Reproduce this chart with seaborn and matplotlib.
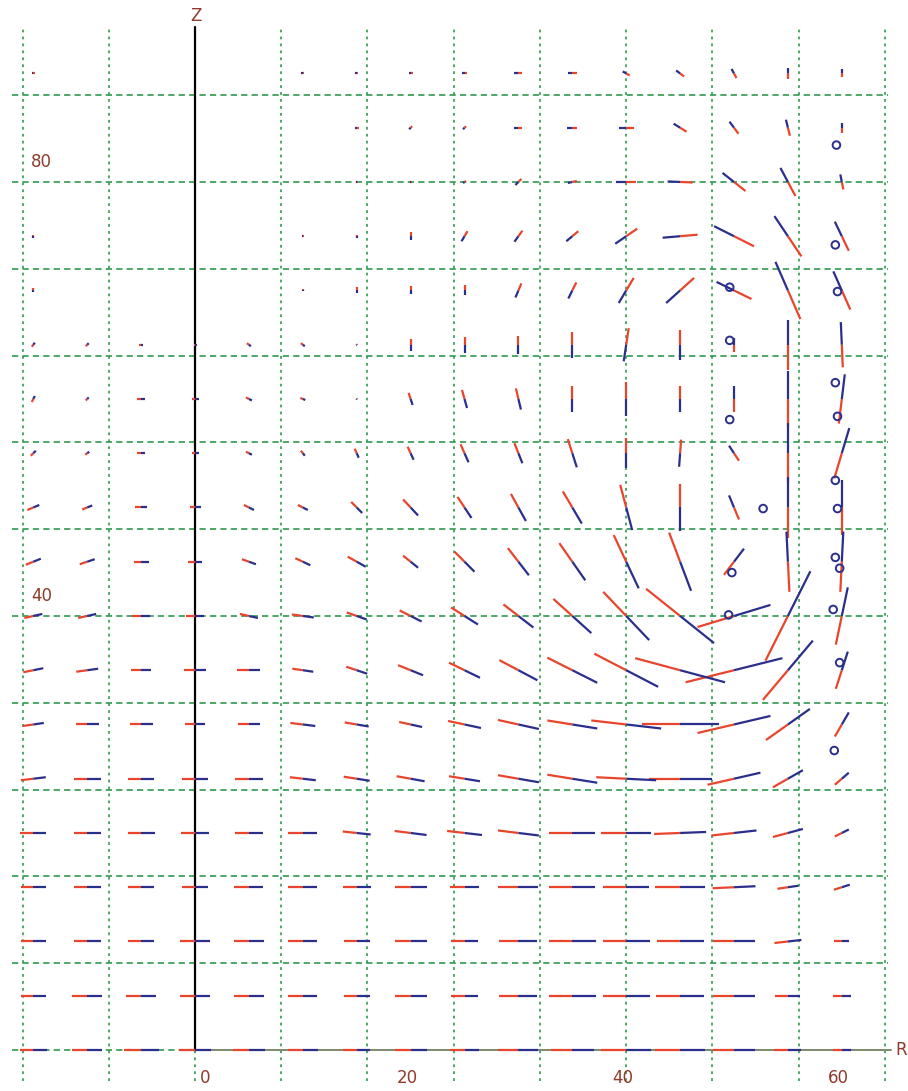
import numpy as np
import pandas as pd
import matplotlib
matplotlib.use("Agg")
import matplotlib.pyplot as plt
from matplotlib.collections import LineCollection
import seaborn as sns

# CONFIG
OUT_FILE = "out.png"
PX_PER_UNIT = 10.8          # drawn length of one data unit, used to turn vector components into R/Z units

# grid of vector origins
R_COLS = [-15, -10, -5, 0, 5, 10, 15, 20, 25, 30, 35, 40, 45, 50, 55, 60]
Z_ROWS = [90, 85, 80, 75, 70, 65, 60, 55, 50, 45, 40, 35, 30, 25, 20, 15, 10, 5, 0]

# radial component of each vector (one row per Z value, top to bottom)
U_VEC = [
    [-3, 0, 0, 0, 0, -3, -3, -4, -5, -8, -9, -7, -8, -5, 0, 0],            # Z=90
    [0, 0, 0, 0, 0, 0, -4, -3, -3, -8, -10, -15, -13, -9, -4, 0],           # Z=85
    [0, 0, 0, 0, 0, 0, -2, -2, -3, -6, -9, -20, -25, -23, -15, -3],         # Z=80
    [0, 0, 0, 0, 0, -2, 0, 0, -6, -8, -12, -22, -35, -40, -27, -14],        # Z=75
    [0, 0, 0, 0, 0, 0, 0, 0, 0, -6, -8, -15, -28, -35, -25, -17],           # Z=70
    [3, 3, 4, 3, 4, 4, 1, 0, 0, 0, 0, -5, 0, 0, 0, -2],                     # Z=65
    [3, 3, 8, 7, 6, 5, 1, 4, 5, 5, 0, 0, 0, 0, 0, 6],                       # Z=60
    [5, 4, 8, 7, 6, 4, 4, 6, 8, 8, 9, 0, -2, -10, 0, 15],                   # Z=55
    [12, 10, 12, 11, 10, 10, 11, 15, 14, 15, 19, 12, 0, -10, 0, 0],         # Z=50
    [15, 15, 15, 15, 14, 15, 18, 15, 20, 21, 26, 25, 22, 20, -3, 3],        # Z=45
    [18, 18, 18, 18, 18, 22, 20, 22, 27, 30, 38, 46, 68, 73, 45, 12],       # Z=40
    [20, 22, 20, 23, 23, 21, 21, 25, 31, 38, 50, 64, 90, 97, 50, 12],       # Z=35
    [21, 23, 23, 20, 22, 25, 24, 23, 33, 41, 50, 70, 77, 73, 44, 14],       # Z=30
    [25, 27, 26, 27, 28, 26, 26, 28, 31, 41, 50, 60, 63, 53, 30, 14],       # Z=25
    [26, 27, 27, 28, 28, 29, 28, 32, 35, 41, 46, 50, 52, 45, 30, 14],       # Z=20
    [25, 27, 26, 27, 29, 29, 28, 32, 30, 40, 46, 46, 50, 43, 21, 16],       # Z=15
    [25, 27, 26, 30, 30, 29, 26, 32, 28, 38, 47, 47, 47, 43, 27, 15],       # Z=10
    [25, 30, 30, 31, 30, 29, 26, 32, 28, 38, 47, 47, 48, 42, 25, 18],       # Z=5
    [27, 30, 35, 32, 32, 30, 27, 32, 30, 40, 43, 50, 50, 43, 27, 18],       # Z=0
]

# axial component of each vector
W_VEC = [
    [0, 0, 0, 0, 0, 0, 0, 0, 0, 0, 0, 4, 6, 9, 11, 8],                      # Z=90
    [0, 0, 0, 0, 0, 0, 0, -3, -3, 0, 0, 0, 8, 12, 16, 10],                  # Z=85
    [0, 0, 0, 0, 0, 0, 0, 0, -2, -6, -2, 0, 1, 18, 28, 15],                 # Z=80
    [-3, 0, 0, 0, 0, 0, -3, -8, -10, -11, -10, -15, -3, 20, 40, 29],        # Z=75
    [-4, 0, 0, 0, 0, -2, -6, -8, -10, -14, -16, -25, -25, 17, 57, 38],      # Z=70
    [4, 3, 0, 0, -3, -3, -1, -12, -16, -18, -26, -33, -30, 14, 50, 45],     # Z=65
    [6, 3, 0, 0, -3, -2, -1, -12, -18, -21, -26, -34, -25, 25, 55, 49],     # Z=60
    [5, 3, 0, 0, -3, -5, -9, -13, -18, -20, -28, -30, -27, 15, 60, 50],     # Z=55
    [5, 4, 0, 0, -5, -5, -11, -16, -21, -27, -32, -45, -47, 24, 60, 55],    # Z=50
    [6, 5, 0, 0, -5, -7, -10, -12, -20, -27, -37, -53, -58, 26, 60, 60],    # Z=45
    [4, 4, 0, 0, -4, -3, -7, -11, -17, -23, -34, -48, -54, 22, 89, 57],     # Z=40
    [4, 3, 0, 0, 0, -3, -7, -10, -15, -20, -25, -33, -24, 24, 59, 37],      # Z=35
    [3, 0, 0, 0, 0, -3, -4, -5, -7, -9, -8, -8, 0, 17, 31, 24],             # Z=30
    [3, 0, 0, 0, 0, -3, -4, -5, -5, -7, -8, -3, 0, 12, 17, 12],             # Z=25
    [0, 0, 0, 0, 0, 0, -3, -4, -4, -5, 0, 0, 2, 5, 8, 7],                   # Z=20
    [0, 0, 0, 0, 0, 0, 0, 0, 0, 0, 0, 0, 0, 2, 3, 5],                       # Z=15
    [0, 0, 0, 0, 0, 0, 0, 0, 0, 0, 0, 0, 0, 0, 3, 0],                       # Z=10
    [0, 0, 0, 0, 0, 0, 0, 0, 0, 0, 0, 0, 0, 0, 0, 0],                       # Z=5
    [0, 0, 0, 0, 0, 0, 0, 0, 0, 0, 0, 0, 0, 0, 0, 0],                       # Z=0
]

# small circle markers inside the vortex
CIRCLE_R = [59.5, 59.4, 59.6, 49.6, 49.6, 59.4, 59.6, 49.6, 59.4,
            52.7, 59.6, 59.4, 59.8, 49.8, 59.2, 49.5, 59.8, 59.3]
CIRCLE_Z = [83.4, 74.2, 69.9, 70.3, 65.4, 61.5, 58.4, 58.1, 52.5,
            49.9, 49.9, 45.4, 44.4, 44.0, 40.6, 40.1, 35.7, 27.6]

R_TICKS = [0, 20, 40, 60]
Z_TICKS = [40, 80]
R_GRID = [-16, -8, 8, 16, 24, 32, 40, 48, 56, 64]
Z_GRID = [8, 16, 24, 32, 40, 48, 56, 64, 72, 80, 88]

RED = "#e8452c"
BLUE = "#2b2f8c"
GREEN = "#2f9a4f"
LABEL = "#8e3b2c"

sns.set_theme(style="white")
plt.rcParams["font.family"] = ["DejaVu Sans"]
plt.rcParams["lines.scale_dashes"] = False

# build the vector table
rows = []
for i, z in enumerate(Z_ROWS):
    for j, r in enumerate(R_COLS):
        rows.append({"R": r, "Z": z, "u": U_VEC[i][j], "w": W_VEC[i][j]})
vec = pd.DataFrame(rows)
vec = vec[(vec["u"] != 0) | (vec["w"] != 0)]
du = vec["u"].to_numpy() / PX_PER_UNIT / 2
dw = vec["w"].to_numpy() / PX_PER_UNIT / 2
cr = vec["R"].to_numpy(dtype=float)
cz = vec["Z"].to_numpy(dtype=float)
tail = [[(a - x, b - y), (a, b)] for a, b, x, y in zip(cr, cz, du, dw)]
head = [[(a, b), (a + x, b + y)] for a, b, x, y in zip(cr, cz, du, dw)]

fig = plt.figure(figsize=(9.08, 10.91), dpi=100)
ax = fig.add_axes([0, 0, 1, 1])

# dashed grid
for r in R_GRID:
    ax.plot([r, r], [-2.9, 94.3], color=GREEN, lw=1.2, ls=(0, (2.0, 3.0)), zorder=1)
ax.plot([0, 0], [-2.9, 0], color=GREEN, lw=1.2, ls=(0, (2.0, 3.0)), zorder=1)
for z in Z_GRID:
    ax.plot([-17.0, 64.3], [z, z], color=GREEN, lw=1.2, ls=(0, (4.5, 3.0)), zorder=1)
ax.plot([-17.0, 0], [0, 0], color=GREEN, lw=1.2, ls=(0, (4.5, 3.0)), zorder=1)

# axes
ax.plot([0, 0], [0, 94.3], color="black", lw=1.6, zorder=2)
ax.plot([0, 64.6], [0, 0], color="#7d8a6e", lw=1.4, zorder=2)

# vectors: red tail half, blue head half
ax.add_collection(LineCollection(tail, colors=RED, linewidths=1.6, zorder=3, capstyle="butt"))
ax.add_collection(LineCollection(head, colors=BLUE, linewidths=1.6, zorder=3, capstyle="butt"))

circ = pd.DataFrame({"R": CIRCLE_R, "Z": CIRCLE_Z})
sns.scatterplot(data=circ, x="R", y="Z", ax=ax, marker="o", s=30,
                facecolors="none", edgecolor=BLUE, linewidth=1.4, zorder=4, legend=False)
ax.set_xlim(-18.09, 66.14)
ax.set_ylim(-3.78, 96.77)
ax.axis("off")

# labels
for t in R_TICKS:
    ax.text(t + (0.9 if t == 0 else -0.3), -2.6, str(t), color=LABEL, fontsize=12,
            ha="center", va="center")
for t in Z_TICKS:
    ax.text(-15.2, t + 1.8, str(t), color=LABEL, fontsize=12, ha="left", va="center")
ax.text(0.1, 95.3, "Z", color=LABEL, fontsize=12, ha="center", va="center")
ax.text(65.5, 0.0, "R", color=LABEL, fontsize=12, ha="center", va="center")

fig.savefig(OUT_FILE, dpi=100)
plt.close(fig)
